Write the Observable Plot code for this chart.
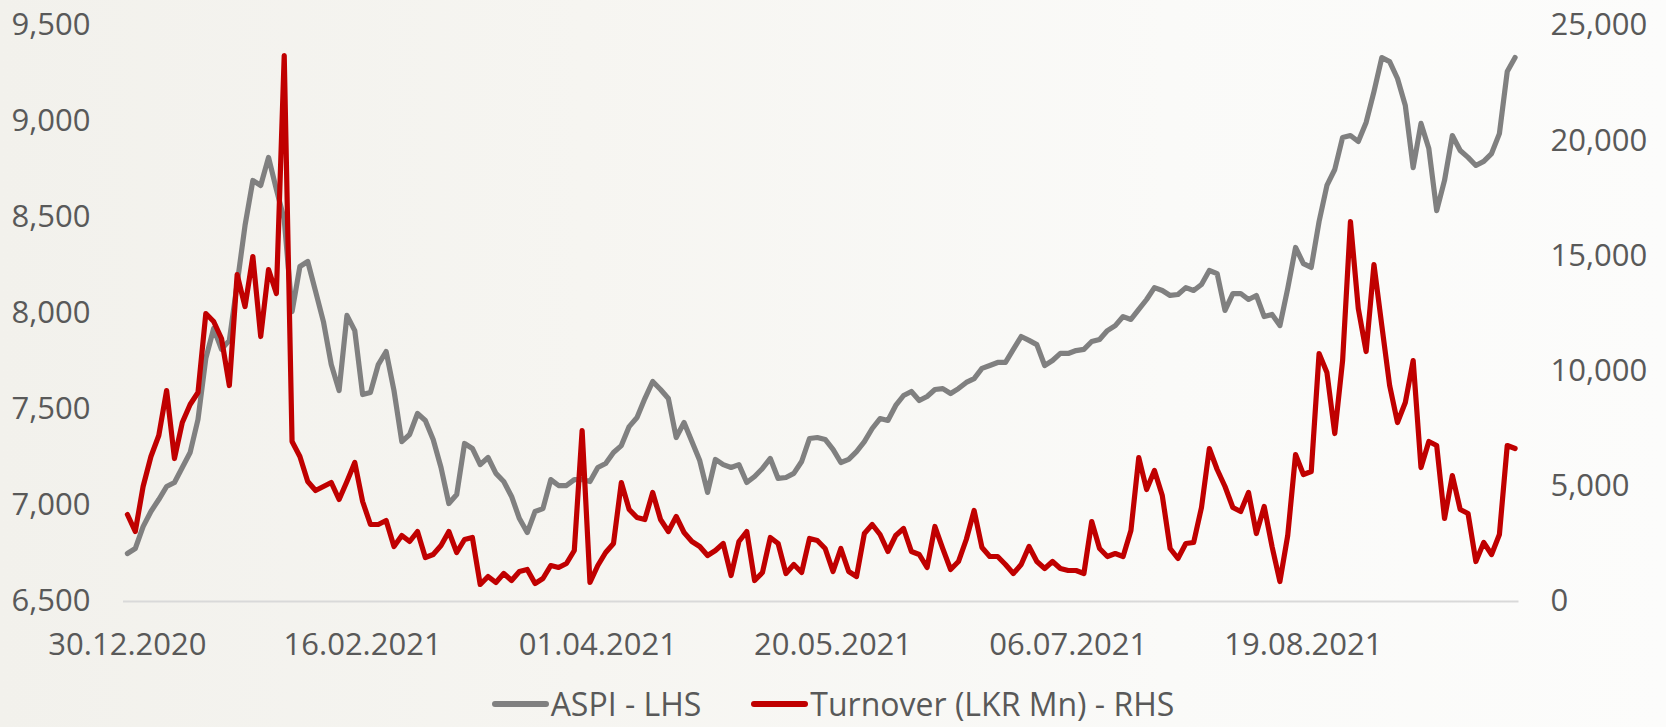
<!DOCTYPE html>
<html>
<head>
<meta charset="utf-8">
<script src="https://cdn.jsdelivr.net/npm/d3@7"></script>
<script src="https://cdn.jsdelivr.net/npm/@observablehq/plot@0.6"></script>
<style>
  html, body { margin: 0; padding: 0; }
  body {
    width: 1666px; height: 727px; overflow: hidden;
    background: linear-gradient(90deg, #f2f1ec 0%, #f6f5f1 35%, #fafaf8 70%, #fcfcfb 100%);
    font-family: "Open Sans", sans-serif;
  }
  #chart svg { display: block; }
  #legend {
    margin-top: 14px; height: 40px; line-height: 40px;
    display: flex; justify-content: center; align-items: center;
    font-size: 32px; color: #595959; font-family: "Open Sans", sans-serif;
  }
  .item { display: flex; align-items: center; margin: 0 25px; }
  .sw { width: 57px; height: 5.5px; border-radius: 3px; margin-right: 2px; }
</style>
</head>
<body>
<div id="chart"></div>
<div id="legend"></div>
<script>
// ASPI (left axis) — daily, 30.12.2020 onwards
const aspi = [
  6750, 6776, 6890, 6969, 7031, 7099, 7120, 7198, 7276, 7448,
  7766, 7922, 7813, 7860, 8156, 8458, 8693, 8667, 8813, 8646,
  8490, 8010, 8245, 8271, 8115, 7958, 7734, 7599, 7990, 7911,
  7578, 7589, 7734, 7802, 7599, 7333, 7370, 7479, 7443, 7344,
  7198, 7010, 7057, 7323, 7297, 7213, 7250, 7167, 7125, 7047,
  6932, 6859, 6969, 6984, 7135, 7104, 7104, 7135, 7135, 7125,
  7198, 7219, 7276, 7312, 7411, 7458, 7557, 7646, 7604, 7557,
  7354, 7432, 7333, 7234, 7068, 7240, 7213, 7198, 7213, 7120,
  7151, 7193, 7245, 7141, 7146, 7167, 7229, 7349, 7354, 7344,
  7292, 7224, 7240, 7281, 7333, 7401, 7453, 7443, 7521, 7573,
  7594, 7547, 7568, 7604, 7609, 7583, 7609, 7641, 7661, 7714,
  7729, 7745, 7745, 7813, 7880, 7860, 7838, 7729, 7755, 7792,
  7792, 7807, 7813, 7854, 7865, 7911, 7937, 7984, 7969, 8021,
  8073, 8135, 8120, 8094, 8099, 8135, 8120, 8151, 8224, 8208,
  8016, 8104, 8104, 8073, 8094, 7984, 7995, 7937, 8130, 8344,
  8260, 8240, 8479, 8667, 8750, 8917, 8927, 8896, 8995, 9156,
  9333, 9312, 9224, 9083, 8760, 8990, 8859, 8536, 8693, 8927,
  8849, 8813, 8771, 8792, 8833, 8937, 9260, 9333
];

// Turnover (LKR Mn) (right axis)
const turnover = [
  3776, 3038, 4991, 6293, 7204, 9157, 6206, 7768, 8550, 9070,
  12499, 12152, 11414, 9374, 14192, 12803, 14973, 11501, 14409, 13367,
  23696, 6944, 6293, 5208, 4817, 4991, 5165, 4427, 5208, 6033,
  4340, 3342, 3342, 3515, 2387, 2864, 2604, 3038, 1910, 2040,
  2430, 3038, 2127, 2691, 2778, 738, 1085, 825, 1215, 911,
  1302, 1389, 781, 998, 1562, 1476, 1649, 2213, 7421, 825,
  1562, 2127, 2517, 5165, 3993, 3646, 3559, 4731, 3559, 3038,
  3689, 2995, 2604, 2387, 1996, 2213, 2517, 1128, 2604, 3038,
  911, 1259, 2778, 2517, 1215, 1606, 1259, 2734, 2647, 2300,
  1302, 2300, 1302, 1085, 2951, 3342, 2908, 2170, 2864, 3168,
  2170, 2040, 1476, 3255, 2300, 1389, 1736, 2691, 3949, 2343,
  1953, 1953, 1606, 1215, 1606, 2387, 1736, 1432, 1736, 1432,
  1345, 1345, 1215, 3472, 2300, 1953, 2083, 1953, 3081, 6250,
  4861, 5685, 4600, 2300, 1866, 2517, 2561, 4080, 6640, 5728,
  4991, 4080, 3906, 4731, 2951, 4123, 2387, 868, 2864, 6380,
  5512, 5642, 10763, 9938, 7291, 10459, 16492, 12716, 10850, 14626,
  11978, 9374, 7768, 8637, 10459, 5815, 6944, 6770, 3602, 5468,
  3993, 3819, 1736, 2561, 2040, 2908, 6770, 6640
];

// Category-axis labels (every 30th trading day)
const xTickIndex = [0, 30, 60, 90, 120, 150];
const xTickLabels = ["30.12.2020", "16.02.2021", "01.04.2021", "20.05.2021", "06.07.2021", "19.08.2021"];

const leftTicks = [6500, 7000, 7500, 8000, 8500, 9000, 9500];
const rightTicks = [0, 5000, 10000, 15000, 20000, 25000];

const seriesNames = ["ASPI - LHS", "Turnover (LKR Mn) - RHS"];
const seriesColors = ["#808080", "#c00000"];

const L0 = 6500, L1 = 9500, R0 = 0, R1 = 25000;
const toLeft = v => L0 + (v - R0) * (L1 - L0) / (R1 - R0);
const fromLeft = v => R0 + (v - L0) * (R1 - R0) / (L1 - L0);
const fmt = d3.format(",");

const chart = Plot.plot({
  width: 1666,
  height: 670,
  marginTop: 25,
  marginBottom: 69,
  marginLeft: 123,
  marginRight: 147.5,
  style: { fontFamily: "'Open Sans', sans-serif", fontSize: "31px", color: "#595959", background: "transparent", overflow: "visible" },
  x: { type: "linear", domain: [-0.5, aspi.length - 0.5] },
  y: { domain: [L0, L1] },
  marks: [
    Plot.ruleY([L0], { stroke: "#d9d9d9", strokeWidth: 2 }),
    Plot.axisY({ anchor: "left", ticks: leftTicks, tickFormat: fmt, tickSize: 0, tickPadding: 33, label: null, fill: "#595959" }),
    Plot.axisY({ anchor: "right", ticks: rightTicks.map(toLeft), tickFormat: v => fmt(Math.round(fromLeft(v))), tickSize: 0, tickPadding: 31.5, label: null, fill: "#595959" }),
    Plot.axisX({ ticks: xTickIndex, tickFormat: v => xTickLabels[xTickIndex.indexOf(v)], tickSize: 0, tickPadding: 31, label: null, fill: "#595959" }),
    Plot.lineY(aspi, { x: (d, i) => i, y: d => d, stroke: seriesColors[0], strokeWidth: 5.2, strokeLinejoin: "round", strokeLinecap: "round" }),
    Plot.lineY(turnover, { x: (d, i) => i, y: d => toLeft(d), stroke: seriesColors[1], strokeWidth: 5.2, strokeLinejoin: "round", strokeLinecap: "round" })
  ]
});
document.getElementById("chart").appendChild(chart);

const legend = document.getElementById("legend");
seriesNames.forEach((name, i) => {
  const item = document.createElement("div");
  item.className = "item";
  const sw = document.createElement("span");
  sw.className = "sw";
  sw.style.background = seriesColors[i];
  const tx = document.createElement("span");
  tx.textContent = name;
  item.appendChild(sw);
  item.appendChild(tx);
  legend.appendChild(item);
});
</script>
</body>
</html>
